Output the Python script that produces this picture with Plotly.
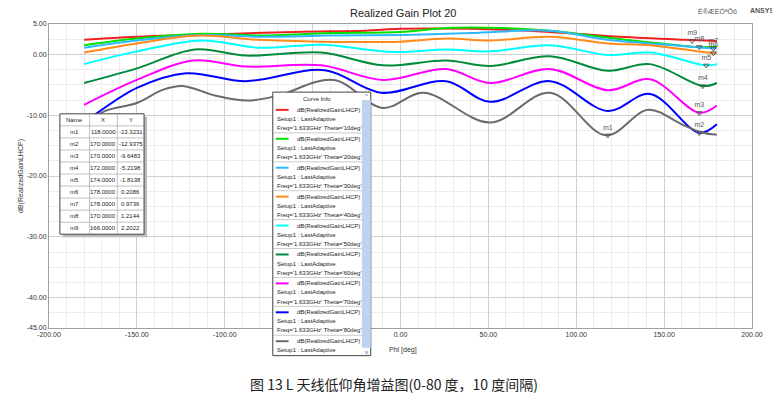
import plotly.graph_objects as go

# ---------------- data ----------------
thetas = ["10deg", "20deg", "30deg", "40deg", "50deg", "60deg", "70deg", "80deg", "90deg"]
colors = ["#f02020", "#00e000", "#30b8ff", "#ff8c1a", "#00ffff", "#008c3c", "#ff00ff", "#0000ff", "#6a6a6a"]

phi_10 = [-180, -150, -115, -60, -20, 0, 40, 85, 125, 162, 180]
gain_10 = [2.4, 2.9, 3.2, 3.7, 3.9, 4.2, 4.2, 3.7, 2.9, 2.4, 2.2]
phi_20 = [-180, -150, -113, -80, -40, 0, 30, 85, 122, 155, 170, 180]
gain_20 = [1.5, 2.6, 3.4, 3.1, 3.5, 3.7, 4.4, 3.9, 2.6, 1.6, 1.2, 1.3]
phi_30 = [-180, -150, -113, -80, -40, 0, 40, 85, 118, 155, 178, 180]
gain_30 = [1.1, 2.3, 3.2, 2.9, 3.1, 3.2, 3.5, 3.9, 2.4, 1.5, 1.0, 1.0]
phi_40 = [-180, -150, -115, -81, -45, 0, 26, 51, 85, 118, 142, 178, 180]
gain_40 = [0.3, 1.8, 3.1, 2.4, 2.1, 2.1, 2.6, 2.3, 2.9, 1.8, 1.5, 0.2, 0.2]
phi_50 = [-180, -150, -113, -81, -45, -4, 26, 51, 85, 118, 142, 174, 180]
gain_50 = [-1.6, 0.5, 2.3, 1.1, 1.6, 0.4, 0.8, 0.5, 1.5, -0.1, 0.3, -1.8, -1.6]
phi_60 = [-180, -150, -117, -88, -45, -10, 26, 51, 85, 118, 142, 172, 180]
gain_60 = [-4.7, -2.3, 0.8, -0.2, 0.3, -1.8, -1.0, -1.9, -0.3, -2.7, -1.6, -5.2, -4.7]
phi_70 = [-180, -150, -118, -88, -45, -10, 26, 51, 85, 118, 142, 170, 180]
gain_70 = [-8.3, -4.2, -1.0, -2.0, -1.8, -4.2, -2.4, -4.7, -2.4, -5.9, -4.1, -9.6, -8.4]
phi_80 = [-180, -174, -150, -122, -88, -43, -11, 26, 51, 85, 118, 142, 170, 180]
gain_80 = [-11.0, -9.9, -5.5, -3.1, -4.4, -2.6, -6.3, -4.4, -7.8, -4.4, -9.3, -6.5, -12.9, -11.5]
phi_90 = [-180, -168, -150, -135, -124, -105, -87, -70, -38, -10, 13, 51, 85, 117, 141, 160, 171, 180]
gain_90 = [-11.5, -9.3, -8.0, -5.8, -5.2, -6.8, -7.6, -6.8, -4.2, -8.8, -6.3, -11.2, -6.3, -13.3, -9.1, -11.5, -12.8, -13.2]

phis = [phi_10, phi_20, phi_30, phi_40, phi_50, phi_60, phi_70, phi_80, phi_90]
gains = [gain_10, gain_20, gain_30, gain_40, gain_50, gain_60, gain_70, gain_80, gain_90]

marker_names = ["m1", "m2", "m3", "m4", "m5", "m6", "m7", "m8", "m9"]
marker_x = [118.0, 170.0, 170.0, 172.0, 174.0, 178.0, 178.0, 170.0, 166.0]
marker_y = [-13.3231, -12.9375, -9.6483, -5.2198, -1.8138, 0.2086, 0.9736, 1.2144, 2.2022]

x_ticks = [-200, -150, -100, -50, 0, 50, 100, 150, 200]
y_ticks = [5, 0, -10, -20, -30, -40, -45]

# ---------------- figure ----------------
OFF = 8  # page body margin
W, H = 780 - OFF, 411 - OFF
L, R, T, B = 42, 752, 20, 328  # plot area in reference pixels

def px(x):
    return (x - L) / (R - L)

def py(y):
    return (B - y) / (B - T)

fig = go.Figure()
for th, c, p, g in zip(thetas, colors, phis, gains):
    fig.add_trace(go.Scatter(x=p, y=g, mode="lines", line=dict(color=c, width=2, shape="spline", smoothing=1.0),
                             name=th, showlegend=False, hoverinfo="skip"))

fig.add_trace(go.Scatter(x=marker_x, y=marker_y, mode="markers+text", text=marker_names,
                         textposition="top center", textfont=dict(size=7, color="#555555"),
                         marker=dict(symbol="triangle-down-open", size=5, color="#555555", line=dict(width=1)),
                         showlegend=False, hoverinfo="skip"))

font = "Liberation Sans, Arial, sans-serif"
fig.update_layout(
    width=W, height=H, margin=dict(l=L - OFF, r=780 - R, t=T - OFF, b=411 - B),
    paper_bgcolor="white", plot_bgcolor="white", showlegend=False,
    font=dict(family=font, size=7, color="#333333"),
    xaxis=dict(range=[-200, 200], tickvals=x_ticks, ticktext=[f"{v:.2f}" for v in x_ticks],
               showgrid=True, gridcolor="#d0d0d0", gridwidth=1, zeroline=False,
               minor=dict(dtick=10, showgrid=True, gridcolor="#ececec"),
               showline=True, linecolor="#a0a0a0", mirror=True, ticks="", tickfont=dict(size=7)),
    yaxis=dict(range=[-45, 5], tickvals=y_ticks, ticktext=[f"{v:.2f}" for v in y_ticks],
               showgrid=True, gridcolor="#d0d0d0", zeroline=False,
               minor=dict(dtick=2.5, showgrid=True, gridcolor="#ececec"),
               showline=True, linecolor="#a0a0a0", mirror=True, ticks="", tickfont=dict(size=7),
               title=dict(text="dB(RealizedGainLHCP)", font=dict(size=7), standoff=2)),
)

ann = []

def A(x, y, text, size=6, color="#222222", xanchor="center", family=None):
    f = dict(size=size, color=color)
    if family:
        f["family"] = family
    ann.append(dict(x=px(x), y=py(y), xref="paper", yref="paper", text=text, showarrow=False,
                    xanchor=xanchor, yanchor="middle", font=f))

A(400, 9, "Realized Gain Plot 20", size=11)
A(400, 350, "Phi [deg]", size=7, color="#333333")
A(717, 7, "Ê®ÆÈÔªÕö", size=7, color="#555555")
A(748, 6, "<b>ANSYS</b>", size=7, color="#555555", xanchor="left")
A(390, 385, "图 13 L 天线低仰角增益图(0-80 度，10 度间隔)", size=14, family="Noto Sans CJK SC")

shapes = []
# marker table
tx0, tx1, ty0 = 53, 138, 111
cols = [53, 83, 111, 138]
rowh = 12.2
nrows = len(marker_names) + 1
shapes.append(dict(type="rect", xref="paper", yref="paper", x0=px(tx0 + 3), x1=px(tx1 + 3), y0=py(ty0 + 3),
                   y1=py(ty0 + nrows * rowh + 3), fillcolor="#bbbbbb", line=dict(width=0), layer="above"))
shapes.append(dict(type="rect", xref="paper", yref="paper", x0=px(tx0), x1=px(tx1), y0=py(ty0),
                   y1=py(ty0 + nrows * rowh), fillcolor="white", line=dict(color="#444444", width=1), layer="above"))
for i in range(1, nrows):
    shapes.append(dict(type="line", xref="paper", yref="paper", x0=px(tx0), x1=px(tx1), y0=py(ty0 + i * rowh),
                       y1=py(ty0 + i * rowh), line=dict(color="#999999", width=0.6), layer="above"))
for cx in cols[1:-1]:
    shapes.append(dict(type="line", xref="paper", yref="paper", x0=px(cx), x1=px(cx), y0=py(ty0),
                       y1=py(ty0 + nrows * rowh), line=dict(color="#999999", width=0.6), layer="above"))
header = ["Name", "X", "Y"]
rows = [header] + [[n, f"{x:.4f}", f"{y:.4f}"] for n, x, y in zip(marker_names, marker_x, marker_y)]
for r, row in enumerate(rows):
    for ci, t in enumerate(row):
        A((cols[ci] + cols[ci + 1]) / 2, ty0 + (r + 0.5) * rowh, t, size=6)

# curve info box
bx0, bx1, by0, by1 = 268, 358, 89, 356
shapes.append(dict(type="rect", xref="paper", yref="paper", x0=px(bx0), x1=px(bx1 + 9), y0=py(by0),
                   y1=py(by1), fillcolor="white", line=dict(color="#444444", width=1), layer="above"))
shapes.append(dict(type="rect", xref="paper", yref="paper", x0=px(bx1), x1=px(bx1 + 9), y0=py(by0 + 8),
                   y1=py(by1 - 8), fillcolor="#bcd4f0", line=dict(width=0), layer="above"))
A((bx0 + bx1) / 2, by0 + 7, "Curve Info", size=6)
A(bx1 + 4.5, by0 + 4, "^", size=6, color="#3060c0")
A(bx1 + 4.5, by1 - 4, "v", size=6, color="#3060c0")
entry_h = 29.3
ey = by0 + 14
for i, (th, c) in enumerate(zip(thetas, colors)):
    y0 = ey + i * entry_h
    if y0 + 8 > by1:
        break
    shapes.append(dict(type="line", xref="paper", yref="paper", x0=px(271), x1=px(284), y0=py(y0 + 4),
                       y1=py(y0 + 4), line=dict(color=c, width=2), layer="above"))
    lines = ["dB(RealizedGainLHCP)", "Setup1 : LastAdaptive", f"Freq='1.633GHz' Theta='{th}'"]
    xs = [290, 270, 270]
    for j, t in enumerate(lines):
        yy = y0 + 4 + j * 9.2
        if yy + 3 > by1:
            break
        A(xs[j], yy, t, size=6, xanchor="left")
    if i > 0:
        shapes.append(dict(type="line", xref="paper", yref="paper", x0=px(bx0), x1=px(bx1), y0=py(y0 - 2),
                           y1=py(y0 - 2), line=dict(color="#aaaaaa", width=0.6), layer="above"))

fig.update_layout(annotations=ann, shapes=shapes)
fig.write_html("out.html")
